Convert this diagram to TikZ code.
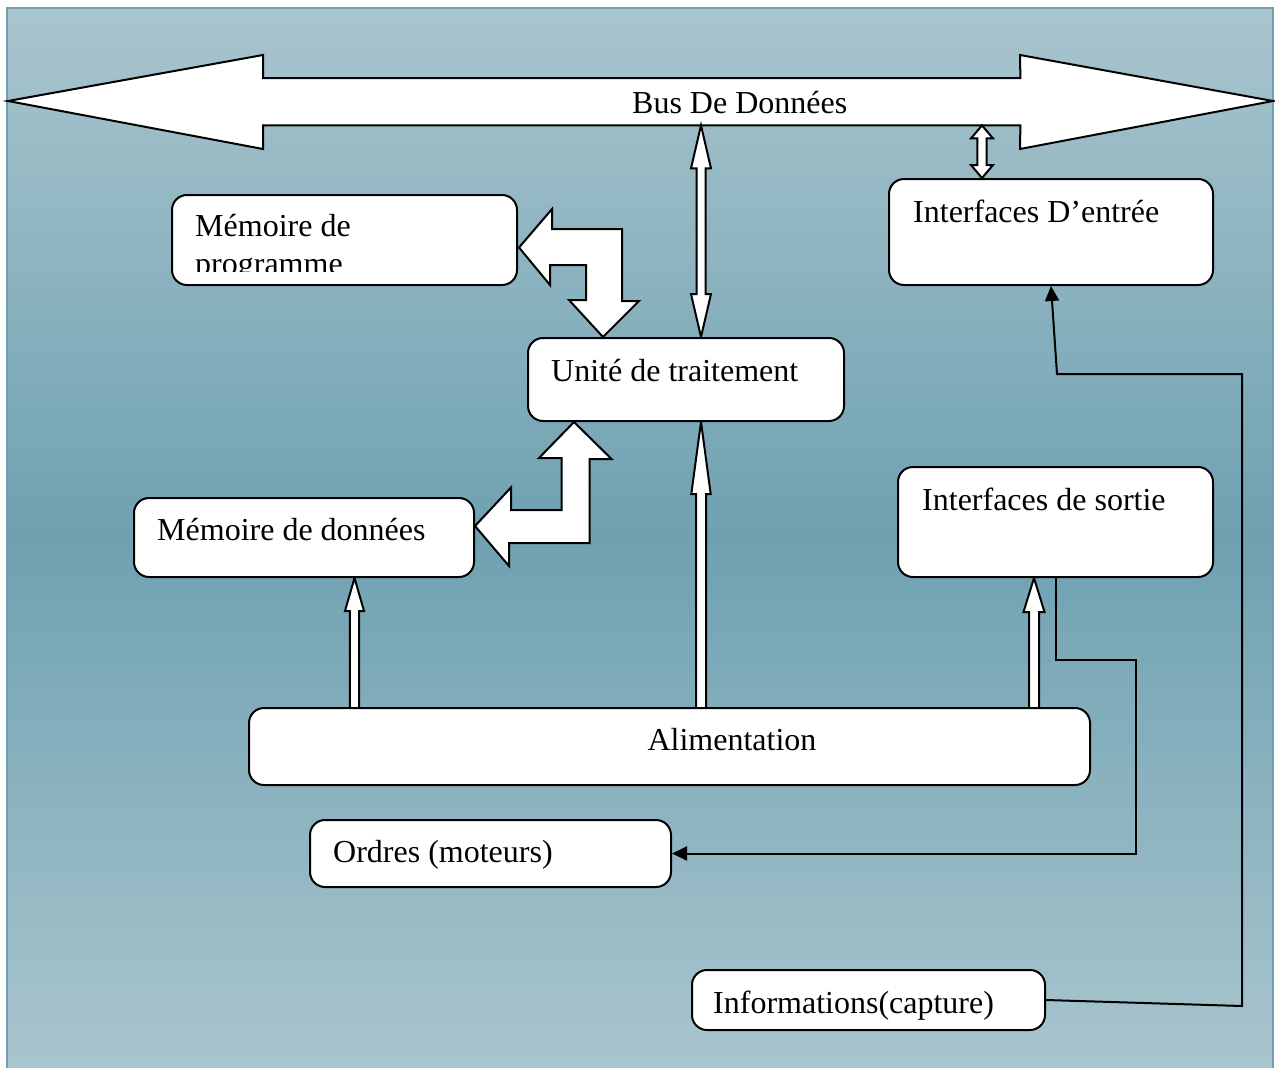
\documentclass[tikz,border=0pt]{standalone}
\usepackage{fontspec}
\setmainfont{Liberation Serif}
\usetikzlibrary{calc,arrows.meta}
\pgfdeclarelayer{back}
\pgfdeclarelayer{links}
\pgfsetlayers{back,links,main}
\definecolor{bglight}{RGB}{169,197,206}
\definecolor{bgdark}{RGB}{111,161,177}
\definecolor{frameline}{RGB}{112,160,176}

% hollow vertical arrow: #1 base, #2 tip, #3 half shaft, #4 half head, #5 head length
\newcommand\riseblock[5]{%
  \draw[blockarrow] let \p1=#1, \p2=#2 in
    (\x2-#3pt,\y1) -- (\x2-#3pt,\y2-#5pt) -- (\x2-#4pt,\y2-#5pt) -- (\x2,\y2)
    -- (\x2+#4pt,\y2-#5pt) -- (\x2+#3pt,\y2-#5pt) -- (\x2+#3pt,\y1);}
% hollow vertical double arrow: #1 upper tip, #2 lower tip
\newcommand\twinblock[5]{%
  \draw[blockarrow] let \p1=#1, \p2=#2 in
    (\x1,\y1) -- (\x1+#4pt,\y1-#5pt) -- (\x1+#3pt,\y1-#5pt) -- (\x1+#3pt,\y2+#5pt)
    -- (\x1+#4pt,\y2+#5pt) -- (\x1,\y2) -- (\x1-#4pt,\y2+#5pt) -- (\x1-#3pt,\y2+#5pt)
    -- (\x1-#3pt,\y1-#5pt) -- (\x1-#4pt,\y1-#5pt) -- cycle;}

\tikzset{
  box/.style={draw=black, line width=2pt, fill=white, rounded corners=15pt,
    inner sep=0pt, anchor=north west},
  lbl/.style={font=\fontsize{32}{38}\selectfont, inner sep=0pt, anchor=base west},
  blockarrow/.style={draw=black, line width=2pt, fill=white, line join=miter},
  wire/.style={draw=black, line width=2pt},
  wiretip/.style={-{Triangle[length=15pt,width=14pt]}}
}

\begin{document}
\begin{tikzpicture}[x=1pt,y=-1pt]
\useasboundingbox (0,0) rectangle (1275,1068);

% backdrop: light at top and bottom, darker in the middle, built from thin bands
\begin{pgfonlayer}{back}
  \fill[white] (0,0) rectangle (1275,1068);
  \foreach \i in {0,...,211}{
    \pgfmathsetmacro\mix{100*abs(\i-105.5)/105.5}
    \fill[bglight!\mix!bgdark] (7,{8+5*\i}) rectangle (1273,{8+5*\i+5.6});
  }
  \draw[frameline, line width=2pt] (7,1068) -- (7,8) -- (1273,8) -- (1273,1068);
\end{pgfonlayer}

% blocks
\node[box, minimum width=345pt, minimum height=90pt] (mp) at (171,194) {};
\node[box, minimum width=316pt, minimum height=83pt] (ut) at (527,337) {};
\node[box, minimum width=324pt, minimum height=106pt] (ie) at (888,178) {};
\node[box, minimum width=340pt, minimum height=79pt] (md) at (133,497) {};
\node[box, minimum width=315pt, minimum height=110pt] (is) at (897,466) {};
\node[box, minimum width=841pt, minimum height=77pt] (ali) at (248,707) {};
\node[box, minimum width=361pt, minimum height=67pt] (ord) at (309,819) {};
\node[box, minimum width=353pt, minimum height=60pt] (inf) at (691,969) {};

% shaft of the data bus
\node[inner sep=0pt, minimum width=757pt, minimum height=47pt, anchor=north west] (bus) at (263,78) {};

% labels
\node[lbl] (tbus) at (632,113) {Bus De Données};
\node[lbl] (tmp1) at (195,236) {Mémoire de};
\begin{scope}
  \clip (mp.north west) rectangle ($(mp.south east)+(0,-14.5)$);
  \node[lbl] (tmp2) at (195,274) {programme};
\end{scope}
\node[lbl] (tut) at (551,381) {Unité de traitement};
\node[lbl] (tie) at (913,222) {Interfaces D’entrée};
\node[lbl] (tis) at (922,510) {Interfaces de sortie};
\node[lbl] (tmd) at (157,540) {Mémoire de données};
\node[lbl, anchor=base] (tali) at (732,750) {Alimentation};
\node[lbl] (tord) at (333,862) {Ordres (moteurs)};
\node[lbl] (tinf) at (713,1013) {Informations(capture)};

% columns of the vertical links
\coordinate (xv) at (701,0);
\coordinate (xw) at (982,0);
\coordinate (xm) at (354.5,0);
\coordinate (xs) at (1034,0);

\begin{pgfonlayer}{links}
  % data bus
  \draw[blockarrow] (8,101) -- (263,55) -- (bus.north west) -- (bus.north east)
    -- (1020,55) -- (1273,101) -- (1020,149) -- (bus.south east) -- (bus.south west)
    -- (263,149) -- cycle;
  % bus links
  \twinblock{(xv |- bus.south)}{(xv |- ut.north)}{4.5}{10}{43}
  \twinblock{(xw |- bus.south)}{(xw |- ie.north)}{4.7}{11}{13}
  % supply links
  \riseblock{(xv |- ali.north)}{(xv |- ut.south)}{5}{9.7}{72}
  \riseblock{(xm |- ali.north)}{(xm |- md.south)}{4.7}{9.5}{33}
  \riseblock{(xs |- ali.north)}{(xs |- is.south)}{5}{10.5}{34}
  % program memory <-> processing unit
  \draw[blockarrow] ($(mp.east)+(1,7.5)$) -- ++(33,-38.5) -- ++(0,20) -- ++(70,0)
    -- ++(0,72) -- ++(17,0) -- ($(ut.north west)+(76,0)$) -- ++(-34,-37) -- ++(17,0)
    -- ++(0,-35) -- ++(-36,0) -- ++(0,20) -- cycle;
  % data memory <-> processing unit
  \draw[blockarrow] ($(ut.south west)+(47,0)$) -- ++(37.5,37) -- ++(-22,0) -- ++(0,84)
    -- ++(-80.5,0) -- ++(0,23) -- ($(md.east)+(0,-11.5)$) -- ++(36,-38.5) -- ++(0,22.5)
    -- ++(50.5,0) -- ++(0,-52) -- ++(-22.5,0) -- cycle;
\end{pgfonlayer}

% signal lines
\draw[wire, wiretip] (is.south) -- ++(0,82) -- ++(80,0) |- (ord.east);
\draw[wire, wiretip] (inf.east) -- ++(196,6) -- ++(0,-632) -- ++(-185,0) -- (ie.south);
\end{tikzpicture}
\end{document}
